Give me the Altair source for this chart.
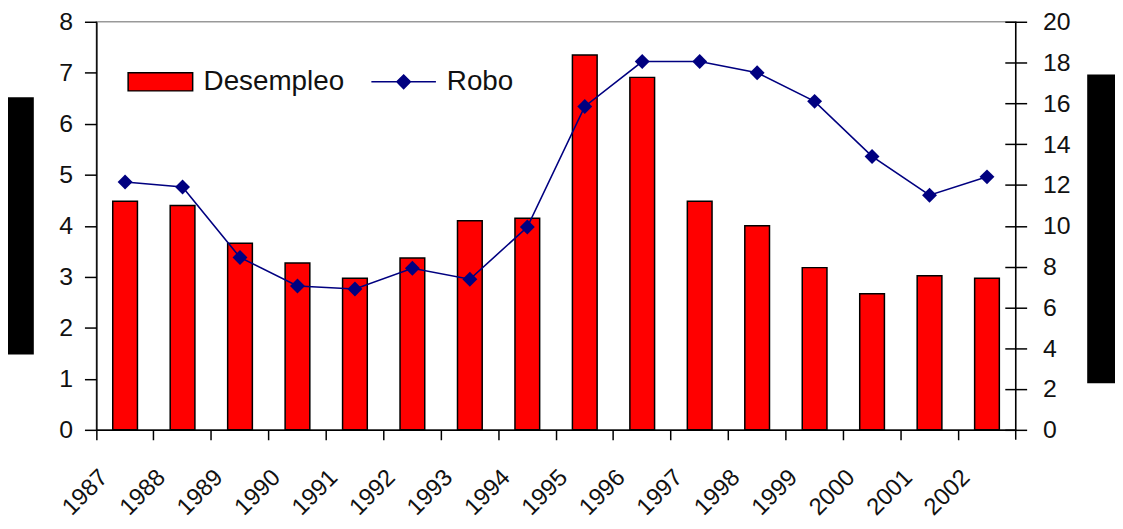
import altair as alt
import pandas as pd

# ---- data ----
years = ["1987", "1988", "1989", "1990", "1991", "1992", "1993", "1994",
         "1995", "1996", "1997", "1998", "1999", "2000", "2001", "2002"]
desempleo = [4.48, 4.40, 3.66, 3.27, 2.97, 3.37, 4.10, 4.15,
             7.35, 6.91, 4.48, 4.00, 3.18, 2.67, 3.02, 2.97]
robo = [12.15, 11.9, 8.45, 7.05, 6.9, 7.92, 7.38, 9.94,
        15.85, 18.05, 18.05, 17.5, 16.1, 13.4, 11.5, 12.4]
bar_series = ["Desempleo"]
line_series = ["Robo"]
left_ticks = [0, 1, 2, 3, 4, 5, 6, 7, 8]
right_ticks = [0, 2, 4, 6, 8, 10, 12, 14, 16, 18, 20]

df = pd.DataFrame({"year": years, "desempleo": desempleo, "robo": robo,
                   "s1": bar_series[0], "s2": line_series[0]})
one = pd.DataFrame({"k": [0]})

FONT = "Liberation Sans"
W, H = 926, 411
TXT = "#111111"

x_enc = alt.X(
    "year:N", sort=years,
    scale=alt.Scale(paddingInner=0, paddingOuter=0),
    axis=alt.Axis(title=None, bandPosition=0, labelAngle=315, labelAlign="right",
                  labelBaseline="middle", labelOffset=-21, labelPadding=34,
                  tickSize=10, labelFontSize=24, labelFont=FONT, labelColor=TXT,
                  domainColor="black", tickColor="black", domainWidth=1.5,
                  tickWidth=1.5, grid=False),
)

bars = alt.Chart(df).mark_bar(
    width=alt.RelativeBandSize(0.43), stroke="black", strokeWidth=1.5
).encode(
    x=x_enc,
    y=alt.Y("desempleo:Q", scale=alt.Scale(domain=[0, 8], nice=False),
            axis=alt.Axis(title=None, orient="left", values=left_ticks, tickSize=12,
                          labelPadding=12, labelFontSize=25, labelFont=FONT,
                          labelColor=TXT, domainColor="black", tickColor="black",
                          domainWidth=1.5, tickWidth=1.5, grid=False)),
    color=alt.Color("s1:N", scale=alt.Scale(domain=bar_series, range=["#ff0000"]),
                    legend=alt.Legend(title=None, orient="none", legendX=31, legendY=27,
                                      symbolType="M-1,-0.28H1V0.28H-1Z", symbolSize=4225,
                                      symbolStrokeColor="black", symbolStrokeWidth=1.5,
                                      labelFontSize=28, labelFont=FONT, labelColor=TXT,
                                      labelOffset=10, padding=0)),
)

line = alt.Chart(df).mark_line(
    strokeWidth=1.6,
    point=alt.OverlayMarkDef(shape="diamond", size=225, filled=True, color="#000080"),
).encode(
    x=x_enc,
    y=alt.Y("robo:Q", scale=alt.Scale(domain=[0, 20], nice=False),
            axis=alt.Axis(title=None, orient="right", values=right_ticks, offset=-11,
                          tickSize=22, domain=False, labelPadding=16, labelFontSize=25,
                          labelFont=FONT, labelColor=TXT, tickColor="black",
                          tickWidth=1.5, grid=False)),
    color=alt.Color("s2:N", scale=alt.Scale(domain=line_series, range=["#000080"]),
                    legend=alt.Legend(title=None, orient="none", legendX=276, legendY=27,
                                      symbolType="M-1,0H1M0,-0.21L0.21,0L0,0.21L-0.21,0Z",
                                      symbolSize=4225, symbolFillColor="#000080",
                                      symbolStrokeColor="#000080", symbolStrokeWidth=1.5,
                                      labelFontSize=28, labelFont=FONT, labelColor=TXT,
                                      labelOffset=10, padding=0)),
)

right_domain = alt.Chart(one).mark_rule(color="black", strokeWidth=1.5).encode(
    x=alt.value(W), y=alt.value(0), y2=alt.value(H + 10))

left_block = alt.Chart(one).mark_rect(color="black").encode(
    x=alt.value(-91), x2=alt.value(-63), y=alt.value(76), y2=alt.value(335))
right_block = alt.Chart(one).mark_rect(color="black").encode(
    x=alt.value(998), x2=alt.value(1030), y=alt.value(53), y2=alt.value(364))

chart = alt.layer(bars, line, right_domain, left_block, right_block).resolve_scale(
    y="independent", color="independent"
).properties(
    width=W, height=H,
    autosize=alt.AutoSizeParams(type="none"),
    padding={"left": 89, "top": 12, "right": 100, "bottom": 97},
    background="white",
).configure_view(stroke="#999999", strokeWidth=1.5)

chart.save("out.html", embed_options={"renderer": "svg", "actions": False})
